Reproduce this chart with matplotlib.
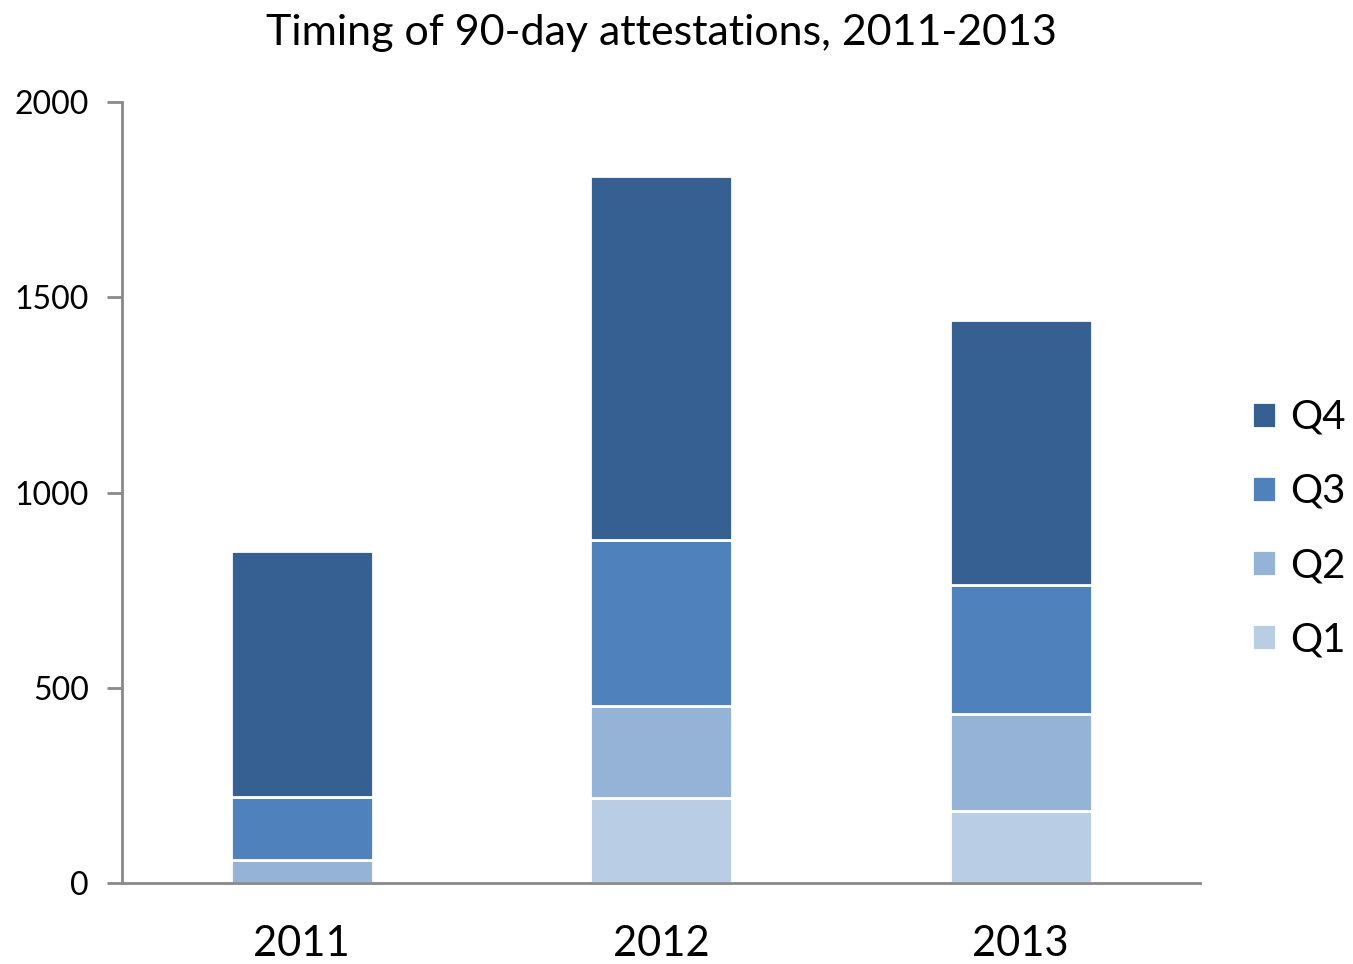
import matplotlib.pyplot as plt
import numpy as np

plt.rcParams['font.family'] = ['Lato', 'DejaVu Sans']

# data
years = ["2011", "2012", "2013"]
q1 = [0, 218, 184]
q2 = [59, 235, 249]
q3 = [161, 425, 330]
q4 = [630, 932, 679]

colors = {"Q1": "#b9cde5", "Q2": "#95b3d7", "Q3": "#4f81bd", "Q4": "#376092"}

fig = plt.figure(figsize=(13.53, 9.64), dpi=100)
ax = fig.add_axes([0.0902, 0.084, 0.797, 0.81])

x = np.arange(len(years))
width = 0.395
bottom = np.zeros(len(years))
bars = {}
for name, vals in [("Q1", q1), ("Q2", q2), ("Q3", q3), ("Q4", q4)]:
    bars[name] = ax.bar(x, vals, width, bottom=bottom, color=colors[name],
                        edgecolor="white", linewidth=2, label=name)
    bottom += np.array(vals)

ax.set_xlim(-0.5, 2.5)
ax.set_ylim(0, 2000)
ax.set_yticks([0, 500, 1000, 1500, 2000])
ax.set_xticks(x)
ax.set_xticklabels(years, fontsize=30)
ax.tick_params(axis="y", labelsize=23, length=11, width=2, color="#898989", pad=13)
ax.tick_params(axis="x", length=0, pad=30)

for s in ["top", "right"]:
    ax.spines[s].set_visible(False)
for s in ["left", "bottom"]:
    ax.spines[s].set_color("#898989")
    ax.spines[s].set_linewidth(2)

ax.set_title("Timing of 90-day attestations, 2011-2013", fontsize=31, pad=41)

handles = [bars[n] for n in ["Q4", "Q3", "Q2", "Q1"]]
ax.legend(handles, ["Q4", "Q3", "Q2", "Q1"], loc="center left",
          bbox_to_anchor=(1.048, 0.454), frameon=False, fontsize=29,
          borderpad=0, borderaxespad=0,
          handlelength=0.6, handleheight=0.6, handletextpad=0.35,
          labelspacing=0.92)

plt.savefig("out.png", dpi=100)
